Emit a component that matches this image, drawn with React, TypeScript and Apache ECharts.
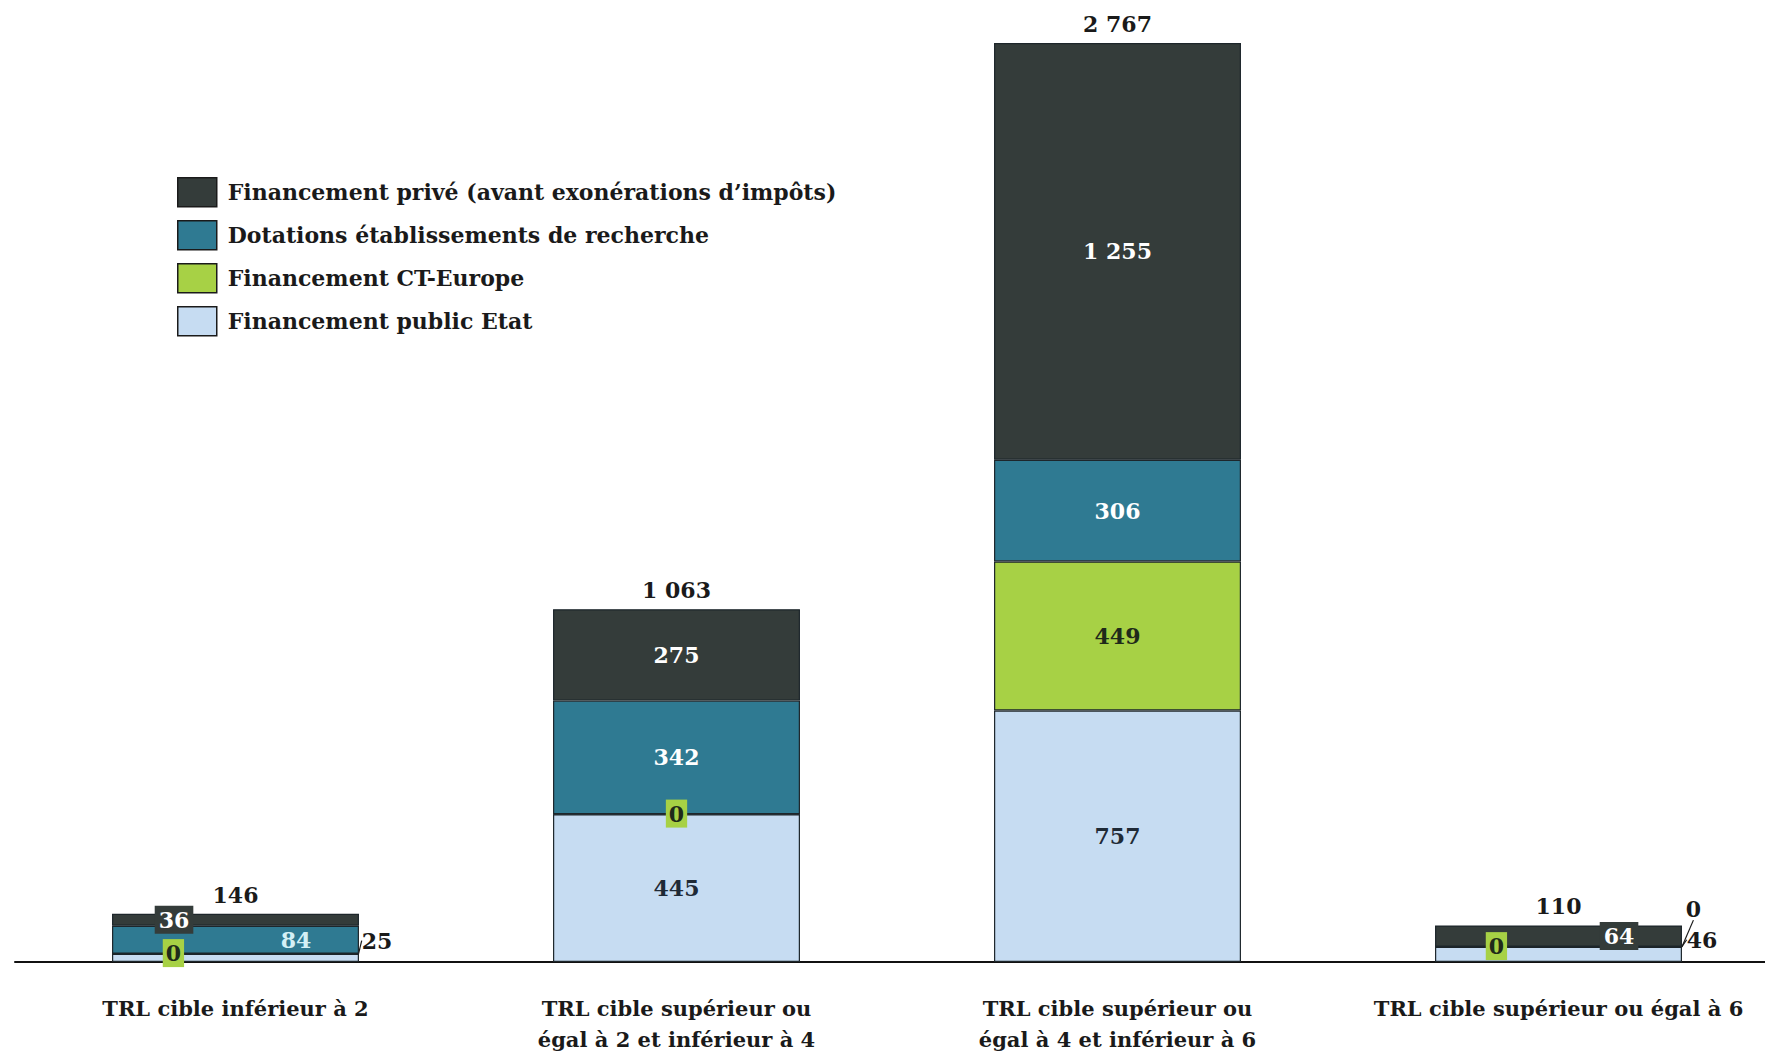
import React, { useEffect, useRef } from "react";
import * as echarts from "echarts";

const categories = [
  "TRL cible inférieur à 2",
  "TRL cible supérieur ou\négal à 2 et inférieur à 4",
  "TRL cible supérieur ou\négal à 4 et inférieur à 6",
  "TRL cible supérieur ou égal à 6",
];
const seriesNames = [
  "Financement privé (avant exonérations d’impôts)",
  "Dotations établissements de recherche",
  "Financement CT-Europe",
  "Financement public Etat",
];
const publicEtat = [25, 445, 757, 46];
const ctEurope = [0, 0, 449, 0];
const dotations = [84, 342, 306, 0];
const prive = [36, 275, 1255, 64];
const totals = [146, 1063, 2767, 110];

const FONT = "'DejaVu Serif', 'Liberation Serif', serif";
const C_PRIVE = "#343c3a";
const C_DOT = "#2f7a92";
const C_CT = "#a7d145";
const C_PUB = "#c6dcf2";
const BORDER = "#1d262b";

const fmt = (v: number) => String(v).replace(/\B(?=(\d{3})+(?!\d))/g, " ");

// label overrides (style/position only) keyed by category index
const privLabels: Record<number, any> = {
  0: { position: [62, "50%"], align: "center", verticalAlign: "middle", backgroundColor: C_PRIVE, padding: [4, 4, 2, 4] },
  3: { position: [184, "50%"], align: "center", verticalAlign: "middle", backgroundColor: C_PRIVE, padding: [4, 4, 2, 4] },
};
const dotLabels: Record<number, any> = {
  0: { position: [184, "50%"], align: "center", verticalAlign: "middle", color: "#d4f0f6" },
  3: { position: [259, -37], align: "center", verticalAlign: "middle", color: "#1a1a1a" },
};
const ctLabels: Record<number, any> = {
  0: { position: [62, 0], align: "center", verticalAlign: "middle", backgroundColor: C_CT, padding: [4, 3, 2, 3] },
  1: { position: ["50%", 0], align: "center", verticalAlign: "middle", backgroundColor: C_CT, padding: [4, 3, 2, 3] },
  3: { position: [62, 0], align: "center", verticalAlign: "middle", backgroundColor: C_CT, padding: [4, 3, 2, 3] },
};
const pubLabels: Record<number, any> = {
  0: { position: [265, -13], align: "center", verticalAlign: "middle", color: "#1a1a1a" },
  3: { position: [267, -7], align: "center", verticalAlign: "middle", color: "#1a1a1a" },
};
const leaderIdx: Record<string, number[]> = { dot: [3], pub: [0, 3] };

function build(values: number[], overrides: Record<number, any>, leader: number[] = []) {
  return values.map((v, i) => {
    const item: any = { value: v };
    if (overrides[i]) item.label = overrides[i];
    if (leader.includes(i)) item.labelLine = { show: true, lineStyle: { color: "#1a1a1a", width: 1.2 } };
    return item;
  });
}

export default function App() {
  const ref = useRef<HTMLDivElement>(null);
  useEffect(() => {
    if (!ref.current) return;
    const chart = echarts.init(ref.current, undefined, { renderer: "svg" });
    const baseLabel = {
      show: true,
      fontFamily: FONT,
      fontWeight: "bold" as const,
      fontSize: 22,
      formatter: (p: any) => fmt(p.value),
    };
    const barCommon = {
      type: "bar" as const,
      stack: "total",
      barWidth: "56%",
      itemStyle: { borderColor: BORDER, borderWidth: 1.2 },
    };
    chart.setOption({
      animation: false,
      backgroundColor: "#ffffff",
      grid: { left: 15, right: 0, top: 32, bottom: 91.4, containLabel: false },
      legend: {
        data: seriesNames,
        orient: "vertical",
        left: 172,
        top: 172,
        itemWidth: 39,
        itemHeight: 29,
        itemGap: 12.5,
        icon: "rect",
        itemStyle: { borderColor: "#1a1a1a", borderWidth: 1.5 },
        textStyle: { fontFamily: FONT, fontWeight: "bold", fontSize: 22, color: "#1a1a1a", padding: [0, 0, 0, 6] },
        selectedMode: false,
      },
      xAxis: {
        type: "category",
        data: categories,
        axisLine: { lineStyle: { color: "#111", width: 2 } },
        axisTick: { show: false },
        axisLabel: {
          interval: 0,
          margin: 31,
          lineHeight: 31,
          fontFamily: FONT,
          fontWeight: "bold",
          fontSize: 21,
          color: "#1a1a1a",
        },
      },
      yAxis: { type: "value", min: 0, max: 2800, show: false, splitLine: { show: false } },
      series: [
        {
          ...barCommon,
          name: seriesNames[3],
          itemStyle: { ...barCommon.itemStyle, color: C_PUB },
          label: { ...baseLabel, color: "#1f2a36" },
          data: build(publicEtat, pubLabels, leaderIdx.pub),
        },
        {
          ...barCommon,
          name: seriesNames[2],
          itemStyle: { ...barCommon.itemStyle, color: C_CT },
          label: { ...baseLabel, color: "#1f2a1a" },
          data: build(ctEurope, ctLabels),
        },
        {
          ...barCommon,
          name: seriesNames[1],
          itemStyle: { ...barCommon.itemStyle, color: C_DOT },
          label: { ...baseLabel, color: "#ffffff" },
          data: build(dotations, dotLabels, leaderIdx.dot),
        },
        {
          ...barCommon,
          name: seriesNames[0],
          itemStyle: { ...barCommon.itemStyle, color: C_PRIVE },
          label: { ...baseLabel, color: "#ffffff" },
          data: build(prive, privLabels),
        },
        {
          type: "scatter",
          name: "totals",
          symbolSize: 0,
          itemStyle: { color: "#1a1a1a", opacity: 1 },
          label: {
            ...baseLabel,
            position: "top",
            distance: 8,
            color: "#1a1a1a",
          },
          emphasis: { disabled: true },
          data: totals,
          z: 10,
        },
      ],
    });
    return () => chart.dispose();
  }, []);
  return (
    <div style={{ position: "fixed", left: 0, top: 0, width: 1765, height: 1055, overflow: "hidden", background: "#fff" }}>
      <div ref={ref} style={{ position: "absolute", left: 0, top: 0, width: 1779, height: 1055 }} />
    </div>
  );
}
